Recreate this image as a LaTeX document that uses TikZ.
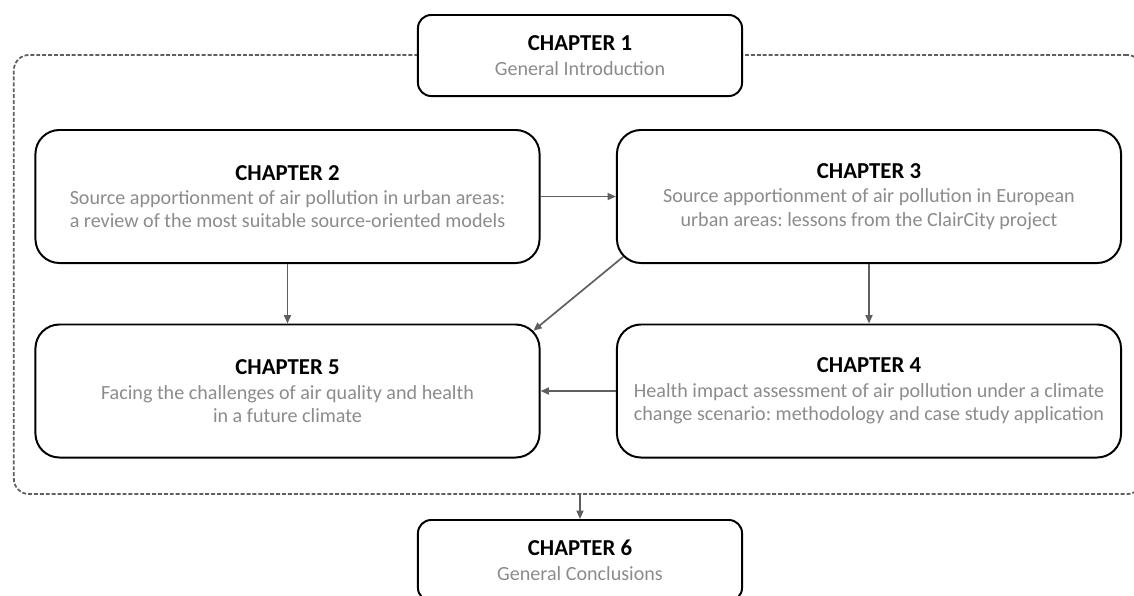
\documentclass[tikz,border=0pt]{standalone}
\usepackage{fontspec}
\setmainfont{Carlito}
\usetikzlibrary{arrows.meta}
\definecolor{txtgray}{RGB}{140,140,140}
\definecolor{lngray}{RGB}{95,95,95}
\newcommand\chaptitle{\color{black}\fontsize{16.2}{18}\selectfont\bfseries}
\frenchspacing

\begin{document}
\begin{tikzpicture}[x=0.025cm,y=-0.025cm,
    big/.style={draw, line width=1.4pt, rounded corners=0.6cm, fill=white,
      minimum width=12.6cm, minimum height=3.325cm, align=center,
      text=txtgray, font=\fontsize{14.3}{16.4}\selectfont},
    small/.style={big, rounded corners=0.33cm, minimum width=8.1cm,
      minimum height=2.025cm},
    frame/.style={draw=lngray, line width=1.25pt, dash pattern=on 2.8pt off 1.4pt,
      rounded corners=0.38cm, minimum width=28.2cm, minimum height=10.975cm},
    link/.style={-{Triangle[length=6pt,width=5pt]}, draw=lngray, line width=1.2pt}]
  \useasboundingbox (0,0) rectangle (1134,595);

  \node[frame] (frame) at (578,274.5) {};

  \node[small] (c1) at (580,55.5) {{\chaptitle CHAPTER 1}\\[1pt]General Introduction};
  \node[big] (c2) at (287.5,196.5) {{\chaptitle CHAPTER 2}\\[1pt]Source apportionment of air pollution in urban areas:\\a review of the most suitable source-oriented models};
  \node[big] (c3) at (869,196.5) {{\chaptitle CHAPTER 3}\\[1pt]Source apportionment of air pollution in European\\urban areas: lessons from the ClairCity project};
  \node[big] (c4) at (869,391) {{\chaptitle CHAPTER 4}\\[1pt]Health impact assessment of air pollution under a climate\\change scenario: methodology and case study application};
  \node[big] (c5) at (287.5,391) {{\chaptitle CHAPTER 5}\\[1pt]Facing the challenges of air quality and health\\in a future climate};
  \node[small] (c6) at (580,560.5) {{\chaptitle CHAPTER 6}\\[1pt]General Conclusions};

  \begin{scope}[link]
    \draw (c2) -- (c3);
    \draw (c2) -- (c5);
    \draw (c3) -- (c4);
    \draw ([xshift=0.18cm,yshift=0.18cm]c3.south west) -- ([xshift=-0.18cm,yshift=-0.18cm]c5.north east);
    \draw (c4) -- (c5);
    \draw (frame.south -| c6.north) -- (c6.north);
  \end{scope}
\end{tikzpicture}
\end{document}
